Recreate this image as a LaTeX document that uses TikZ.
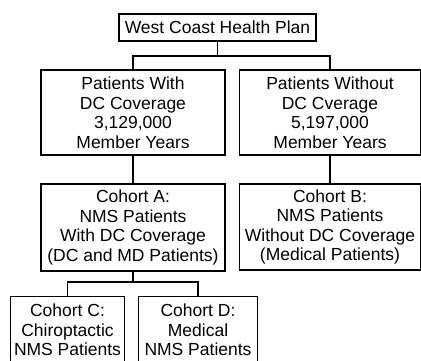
\documentclass[tikz,border=0pt]{standalone}
\usepackage{fontspec}
\setmainfont{Liberation Sans}
\begin{document}
\begin{tikzpicture}[x=1pt,y=-1pt,
  box/.style={draw,line width=1.1pt,rectangle,inner sep=0pt,align=center,
    font=\fontsize{17.5}{19.5}\selectfont},
  openbox/.style={rectangle,inner sep=0pt,align=center,
    font=\fontsize{17.5}{19.5}\selectfont},
  link/.style={line width=1.1pt}]
\useasboundingbox (0,0) rectangle (421,360);
\clip (0,0) rectangle (421,360);
\node[box,minimum width=197pt,minimum height=27pt] (top) at (217.5,27.5) {West Coast Health Plan};
\node[box,minimum width=184pt,minimum height=85pt] (b1) at (133,112.5) {Patients With\\DC Coverage\\3,129,000\\Member Years};
\node[box,minimum width=181pt,minimum height=85pt] (b2) at (330,112.5) {Patients Without\\DC Cverage\\5,197,000\\Member Years};
\node[box,minimum width=184pt,minimum height=87pt] (ca) at (133,227.5) {Cohort A:\\NMS Patients\\With DC Coverage\\(DC and MD Patients)};
\node[box,minimum width=181pt,minimum height=86pt] (cb) at (330,227) {Cohort B:\\NMS Patients\\Without DC Coverage\\(Medical Patients)};
\node[openbox,minimum width=113pt,minimum height=66pt] (cc) at (67.5,330) {Cohort C:\\Chiroptactic\\NMS Patients};
\node[openbox,minimum width=118pt,minimum height=66pt] (cd) at (198,330) {Cohort D:\\Medical\\NMS Patients};
\draw[link] (cc.south west) -- (cc.north west) -- (cc.north east) -- (cc.south east);
\draw[link] (cd.south west) -- (cd.north west) -- (cd.north east) -- (cd.south east);
\coordinate (j1) at (217.5,56);
\coordinate (j2) at (133,282);
\draw[link] (top.south) -- (j1);
\draw[link] (b1.north) |- (j1) -| (b2.north);
\draw[link] (b1.south) -- (ca.north);
\draw[link] (b2.south) -- (cb.north);
\draw[link] (ca.south) -- (j2);
\draw[link] (cc.north) |- (j2) -| (cd.north);
\end{tikzpicture}
\end{document}
